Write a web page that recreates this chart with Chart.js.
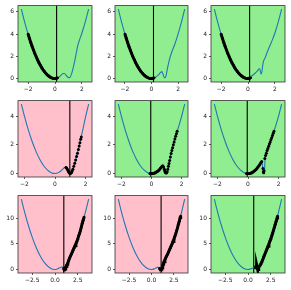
<!DOCTYPE html>
<html><head><meta charset="utf-8">
<script src="https://cdn.jsdelivr.net/npm/chart.js@4/dist/chart.umd.min.js"></script>
<style>html,body{margin:0;padding:0;background:#fff;}#wrap{position:relative;width:291px;height:290px;overflow:hidden;}canvas{position:absolute;}</style>
</head><body><div id="wrap"></div>
<script>
// ---------- data ----------
// Row 1 (x data range -2.5..2.5)
const c11x = [-2.5,-2.25,-2,-1.75,-1.5,-1.25,-1,-0.75,-0.5,-0.25,0,0.25,0.45,0.6,0.7,0.85,1.0,1.1,1.25,1.4,1.55,1.7,1.8,2.0,2.25,2.5];
const c11y = [6.25,5.06,4,3.06,2.25,1.56,1,0.56,0.25,0.06,0,0.08,0.3,0.45,0.45,0.25,0.08,0.1,0.5,1.2,2.1,3.0,3.4,4.1,5.1,6.25];
const c12x = [-2.5,-2.25,-2,-1.75,-1.5,-1.25,-1,-0.75,-0.5,-0.25,0,0.25,0.5,0.65,0.78,0.88,0.97,1.05,1.2,1.35,1.5,1.75,2.0,2.25,2.5];
const c12y = [6.25,5.06,4,3.06,2.25,1.56,1,0.56,0.25,0.06,0,0.08,0.3,0.5,0.62,0.35,0.08,0.1,0.9,1.7,2.3,3.06,4.0,5.06,6.25];
const c13x = [-2.5,-2.25,-2,-1.75,-1.5,-1.25,-1,-0.75,-0.5,-0.25,0,0.25,0.5,0.7,0.86,0.98,1.14,1.3,1.5,1.75,2.0,2.25,2.5];
const c13y = [6.25,5.06,4,3.06,2.25,1.56,1,0.56,0.25,0.06,0,0.2,0.45,0.68,0.9,0.4,1.5,1.95,2.6,3.3,4.1,5.1,6.25];
const p1x = [-2,-1.9,-1.8,-1.7,-1.6,-1.5,-1.4,-1.3,-1.2,-1.1,-1,-0.9,-0.8,-0.7,-0.6,-0.5,-0.4,-0.3,-0.2,-0.1,0,0.1,0.2];
const p1y = [4,3.61,3.24,2.89,2.56,2.25,1.96,1.69,1.44,1.21,1,0.81,0.64,0.49,0.36,0.25,0.16,0.09,0.04,0.01,0,0.02,0.06];

// Row 2 (x data range -2.2..2.2)
const c21x = [-2.2,-2,-1.75,-1.5,-1.25,-1,-0.75,-0.5,-0.25,0,0.25,0.45,0.6,0.7,0.8,0.9,1.0,1.1,1.25,1.4,1.55,1.7,1.85,2.0,2.2];
const c21y = [4.84,4,3.06,2.25,1.56,1,0.56,0.25,0.06,0,0.08,0.25,0.4,0.45,0.3,0.1,0.0,0.12,0.55,1.15,1.75,2.5,3.2,3.95,4.84];
const p21x = [0.72,0.76,0.8,0.85,0.88,0.92,0.96,1.0,1.04,1.08,1.12,1.17,1.23,1.29,1.35,1.41,1.47,1.53,1.58,1.63,1.68,1.72];
const p21y = [0.42,0.38,0.32,0.22,0.14,0.07,0.02,0.0,0.03,0.08,0.17,0.3,0.5,0.72,0.95,1.18,1.42,1.68,1.92,2.15,2.38,2.55];
const c22x = [-2.2,-2,-1.75,-1.5,-1.25,-1,-0.75,-0.5,-0.25,0,0.25,0.5,0.65,0.75,0.82,0.9,0.97,1.05,1.15,1.3,1.45,1.6,1.75,2.0,2.2];
const c22y = [4.84,4,3.06,2.25,1.56,1,0.56,0.25,0.06,0,0.06,0.27,0.45,0.55,0.4,0.12,0.02,0.15,0.6,1.4,2.0,2.6,3.1,4.0,4.84];
const p22x = [-0.1,-0.05,0,0.05,0.1,0.15,0.2,0.25,0.3,0.35,0.4,0.45,0.5,0.55,0.6,0.65,0.7,0.75,0.8,0.85,0.88,0.92,0.96,1.0,1.04,1.08,1.12,1.16,1.2,1.25,1.3,1.35,1.4,1.45,1.5,1.55,1.6,1.65,1.7];
const p22y = [0.01,0,0,0,0.01,0.02,0.04,0.06,0.09,0.12,0.16,0.2,0.25,0.31,0.38,0.44,0.5,0.55,0.45,0.3,0.18,0.08,0.03,0.05,0.12,0.3,0.5,0.7,0.9,1.15,1.4,1.6,1.8,2.0,2.2,2.4,2.6,2.78,2.95];
const c23x = [-2.2,-2,-1.75,-1.5,-1.25,-1,-0.75,-0.5,-0.25,0,0.25,0.5,0.7,0.85,0.92,0.98,1.02,1.08,1.12,1.3,1.5,1.7,2.0,2.2];
const c23y = [4.84,4,3.06,2.25,1.56,1,0.56,0.25,0.06,0,0.06,0.27,0.55,0.78,0.85,0.1,0.0,0.2,1.1,1.75,2.35,2.95,4.0,4.84];
const p23x = [-0.1,-0.05,0,0.05,0.1,0.15,0.2,0.25,0.3,0.35,0.4,0.45,0.5,0.55,0.6,0.65,0.7,0.75,0.8,0.85,0.9,0.98,1.0,1.03,1.05,1.1,1.15,1.2,1.25,1.3,1.35,1.4,1.45,1.5,1.55,1.6,1.65,1.7];
const p23y = [0.01,0,0,0,0.01,0.02,0.04,0.06,0.09,0.13,0.17,0.21,0.27,0.32,0.38,0.46,0.53,0.6,0.68,0.76,0.84,0.35,0.1,0.05,0.2,1.05,1.25,1.42,1.6,1.75,1.9,2.05,2.2,2.35,2.5,2.65,2.8,2.95];

// Row 3 (x data range -3.7..3.7)
const c31x = [-3.7,-3.5,-3,-2.5,-2,-1.5,-1,-0.5,0,0.3,0.55,0.75,0.9,1.0,1.1,1.25,1.4,1.6,1.8,2.0,2.25,2.5,2.75,3.0,3.2,3.5,3.7];
const c31y = [13.69,12.25,9,6.25,4,2.25,1,0.25,0,0.15,0.35,0.5,0.3,0.05,0.1,0.6,1.2,2.2,3.0,3.8,4.8,5.9,7.2,9.0,10.2,12.25,13.69];
const p31x = [0.95,1.0,1.05,1.1,1.15,1.2,1.25,1.3,1.35,1.4,1.5,1.6,1.7,1.8,1.9,2.0,2.1,2.2,2.3,2.4,2.5,2.6,2.7,2.8,2.9,3.0,3.1,3.2];
const p31y = [0.15,0.05,0.02,0.1,0.25,0.45,0.6,0.85,1.0,1.2,1.7,2.2,2.6,3.0,3.4,3.8,4.2,4.6,5.0,5.4,5.9,6.5,7.0,7.6,8.3,9.0,9.6,10.2];
const c32x = [-3.7,-3.5,-3,-2.5,-2,-1.5,-1,-0.5,0,0.3,0.55,0.7,0.85,1.0,1.15,1.25,1.4,1.6,1.8,2.0,2.25,2.5,2.75,3.0,3.25,3.5,3.7];
const c32y = [13.69,12.25,9,6.25,4,2.25,1,0.25,0,0.12,0.35,0.45,0.25,0.0,0.1,0.7,1.5,2.3,3.0,3.8,4.8,5.9,7.2,8.8,10.4,12.25,13.69];
const p32x = [0.9,0.95,1.0,1.05,1.1,1.15,1.2,1.25,1.3,1.35,1.4,1.5,1.6,1.7,1.8,1.9,2.0,2.1,2.2,2.3,2.4,2.5,2.6,2.7,2.8,2.9,3.0,3.1,3.2,3.25];
const p32y = [0.2,0.08,0.0,0.02,0.05,0.1,0.35,0.7,1.0,1.25,1.5,1.9,2.3,2.65,3.0,3.4,3.8,4.2,4.6,5.0,5.45,5.9,6.4,6.9,7.5,8.1,8.8,9.4,10.1,10.4];
const c33x = [-3.7,-3.5,-3,-2.5,-2,-1.5,-1,-0.5,0,0.3,0.55,0.7,0.85,1.0,1.15,1.3,1.5,1.75,2.0,2.25,2.5,2.75,3.0,3.25,3.5,3.7];
const c33y = [13.69,12.25,9,6.25,4,2.25,1,0.25,0,0.12,0.3,0.45,0.3,0.05,0.15,0.6,1.4,2.5,3.6,4.7,5.9,7.3,8.8,10.4,12.25,13.69];
const p33x = [0.8,0.88,0.95,1.0,1.05,1.1,1.15,1.2,1.3,1.4,1.5,1.6,1.7,1.8,1.9,2.0,2.1,2.2,2.3,2.4,2.5,2.6,2.7,2.8,2.9,3.0,3.1,3.2,3.25];
const p33y = [0.3,0.6,0.9,0.5,0.1,0.0,0.2,0.5,0.7,1.0,1.4,1.8,2.3,2.75,3.2,3.6,4.05,4.5,4.95,5.45,5.9,6.45,7.0,7.6,8.2,8.8,9.4,10.0,10.4];

// vertical marker lines, one per panel
const vlineX = [0.12, 0.15, 0.12, 0.97, -0.05, -0.05, 0.97, 1.07, 0.63];
// panel background kind: g = green, p = pink
const panelBg = ['g','g','g','p','g','g','p','p','g'];
// per-row axis extents and ticks
const rowXExtent = [2.5, 2.2, 3.7];
const rowYExtent = [6.25, 4.84, 13.69];
const rowXTicks = [[-2,0,2],[-2,0,2],[-2.5,0,2.5]];
const rowYTicks = [[0,2,4,6],[0,2,4],[0,5,10]];
const rowXDec = [0,0,1];

const curves = [[c11x,c11y],[c12x,c12y],[c13x,c13y],[c21x,c21y],[c22x,c22y],[c23x,c23y],[c31x,c31y],[c32x,c32y],[c33x,c33y]];
const tracks = [[p1x,p1y],[p1x,p1y],[p1x,p1y],[p21x,p21y],[p22x,p22y],[p23x,p23y],[p31x,p31y],[p32x,p32y],[p33x,p33y]];

// ---------- layout ----------
const plotLeft = [18, 115, 211], plotW = [75, 74, 75];
const plotTop = [5, 100, 195], plotH = [77, 77, 78];
const YW = 18, XH = 14, PT = 5, PR = 3;
const BG = {g:'#90ee90', p:'#ffc0cb'};
const FONT = {family:'"DejaVu Sans", sans-serif', size:6};
const fmt = (v, d) => (v < 0 ? '\u2212' : '') + Math.abs(v).toFixed(d);

const framePlugin = {
  id:'frame',
  beforeDraw(chart, args, opts){
    const a = chart.chartArea, ctx = chart.ctx;
    ctx.save(); ctx.fillStyle = opts.bg; ctx.fillRect(a.left, a.top, a.right-a.left, a.bottom-a.top); ctx.restore();
  },
  afterDraw(chart){
    const a = chart.chartArea, ctx = chart.ctx;
    ctx.save(); ctx.strokeStyle = '#333'; ctx.lineWidth = 0.8;
    ctx.strokeRect(a.left, a.top, a.right-a.left, a.bottom-a.top); ctx.restore();
  }
};

const wrap = document.getElementById('wrap');
for (let i = 0; i < 9; i++) {
  const r = Math.floor(i/3), c = i % 3;
  const w = YW + plotW[c] + PR, h = PT + plotH[r] + XH;
  const cv = document.createElement('canvas');
  cv.width = w; cv.height = h;
  cv.style.width = w + 'px'; cv.style.height = h + 'px';
  cv.style.left = (plotLeft[c] - YW) + 'px'; cv.style.top = (plotTop[r] - PT) + 'px';
  wrap.appendChild(cv);
  const xe = rowXExtent[r], ye = rowYExtent[r];
  const xMin = -xe*1.1, xMax = xe*1.1, yMin = -ye*0.05, yMax = ye*1.05;
  const [cx, cy] = curves[i], [tx, ty] = tracks[i];
  const dense = (r !== 1);
  new Chart(cv, {
    type:'scatter',
    data:{datasets:[
      {data:[{x:vlineX[i],y:yMin},{x:vlineX[i],y:yMax}], showLine:true, borderColor:'#000', borderWidth:1.1, pointRadius:0, order:3},
      {data:cx.map((x,k)=>({x, y:cy[k]})), showLine:true, borderColor:'#1f77b4', borderWidth:1.1, pointRadius:0, cubicInterpolationMode:'monotone', order:2},
      {data:tx.map((x,k)=>({x, y:ty[k]})), showLine:dense, borderColor:'#000', borderWidth:dense?3:0, pointRadius:dense?1.4:1.5, pointBackgroundColor:'#000', pointBorderWidth:0, order:1}
    ]},
    options:{
      responsive:false, animation:false, devicePixelRatio:1, events:[],
      layout:{padding:{top:PT, right:PR, left:0, bottom:0}},
      plugins:{legend:{display:false}, tooltip:{enabled:false}, frame:{bg:BG[panelBg[i]]}},
      scales:{
        x:{type:'linear', min:xMin, max:xMax,
           afterBuildTicks:s=>{s.ticks = rowXTicks[r].map(v=>({value:v}));},
           afterFit:s=>{s.height = XH;},
           ticks:{autoSkip:false, maxRotation:0, padding:2, color:'#222', font:FONT, callback:v=>fmt(v,rowXDec[r])},
           grid:{drawOnChartArea:false, drawTicks:true, tickLength:2, color:'#333', lineWidth:0.8},
           border:{display:false}},
        y:{type:'linear', min:yMin, max:yMax,
           afterBuildTicks:s=>{s.ticks = rowYTicks[r].map(v=>({value:v}));},
           afterFit:s=>{s.width = YW;},
           ticks:{autoSkip:false, padding:2, color:'#222', font:FONT, callback:v=>fmt(v,0)},
           grid:{drawOnChartArea:false, drawTicks:true, tickLength:2, color:'#333', lineWidth:0.8},
           border:{display:false}}
      }
    },
    plugins:[framePlugin]
  });
}
</script></body></html>
